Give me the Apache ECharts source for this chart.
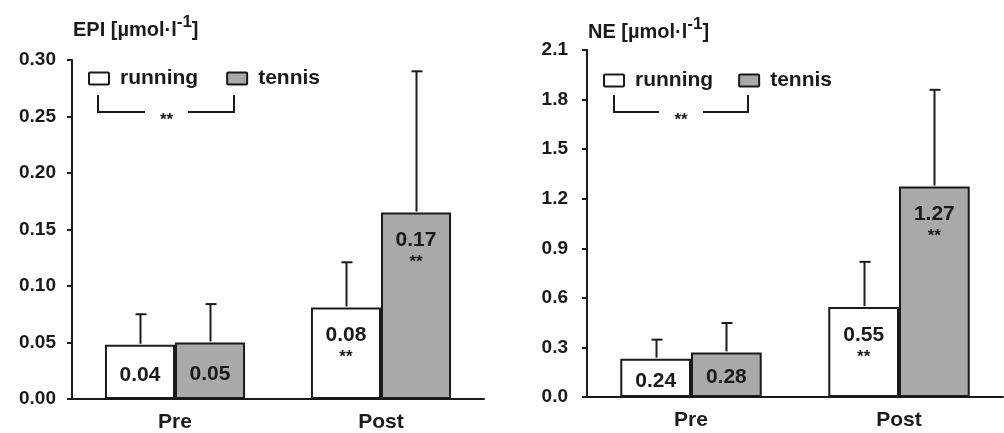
<!DOCTYPE html>
<html><head><meta charset="utf-8">
<script src="https://cdn.jsdelivr.net/npm/echarts@6/dist/echarts.min.js"></script>
<style>html,body{margin:0;padding:0;background:#fff}#c{width:1004px;height:433px}</style>
</head><body><div id="c"></div>
<script>
// ---- data ----
const categories = ['Pre', 'Post'];
const seriesNames = ['running', 'tennis'];
// EPI [µmol·l-1]
const epiRunning = [0.048, 0.081];
const epiTennis = [0.050, 0.165];
const epiRunningUpper = [0.075, 0.121];
const epiTennisUpper = [0.084, 0.290];
const epiRunningLabels = ['0.04', '0.08'];
const epiTennisLabels = ['0.05', '0.17'];
// NE [µmol·l-1]
const neRunning = [0.232, 0.544];
const neTennis = [0.270, 1.274];
const neRunningUpper = [0.347, 0.818];
const neTennisUpper = [0.448, 1.859];
const neRunningLabels = ['0.24', '0.55'];
const neTennisLabels = ['0.28', '1.27'];
// significance marks per category (vs Pre)
const sigMarks = ['', '**'];
const epiTicks = { min: 0, max: 0.30, interval: 0.05, digits: 2 };
const neTicks = { min: 0, max: 2.1, interval: 0.3, digits: 1 };

// ---- styles ----
const INK = '#1a1a1a';
const FONT = '"Liberation Sans", Arial, sans-serif';
const FILL = { running: '#ffffff', tennis: '#a9a9a9' };
const CAT_GAP = 0.32;

function barData(values, labels) {
  return values.map((v, i) => ({
    value: v,
    label: sigMarks[i]
      ? { position: 'insideTop', distance: 11, offset: [0, 5], formatter: '{v|' + labels[i] + '}\n{s|' + sigMarks[i] + '}' }
      : { position: 'inside', offset: [0, 3], formatter: '{v|' + labels[i] + '}' }
  }));
}

function barSeries(name, idx, values, labels) {
  return {
    name: name, type: 'bar', xAxisIndex: idx, yAxisIndex: idx,
    barGap: '0%', barCategoryGap: (CAT_GAP * 100) + '%',
    itemStyle: { color: FILL[name], borderColor: INK, borderWidth: 2 },
    label: {
      show: true, color: INK,
      rich: {
        v: { fontSize: 21, fontWeight: 'bold', color: INK, lineHeight: 24, fontFamily: FONT },
        s: { fontSize: 17, fontWeight: 'bold', color: INK, lineHeight: 20, fontFamily: FONT }
      }
    },
    emphasis: { disabled: true },
    data: barData(values, labels), z: 2
  };
}

function errSeries(idx, side, means, uppers) {
  return {
    type: 'custom', xAxisIndex: idx, yAxisIndex: idx, z: 3, silent: true,
    encode: { x: 0, y: [1, 2] },
    data: means.map((m, i) => [i, m, uppers[i]]),
    renderItem: function (params, api) {
      const band = api.size([1, 0])[0];
      const bw = band * (1 - CAT_GAP) / 2;
      const p0 = api.coord([api.value(0), api.value(1)]);
      const p1 = api.coord([api.value(0), api.value(2)]);
      const x = Math.round(p0[0] + side * bw / 2) + 0.5;
      const st = { stroke: INK, lineWidth: 2 };
      return {
        type: 'group', children: [
          { type: 'line', shape: { x1: x, y1: p0[1] - 1, x2: x, y2: p1[1] }, style: st },
          { type: 'line', shape: { x1: x - 5, y1: p1[1], x2: x + 6, y2: p1[1] }, style: st }
        ]
      };
    }
  };
}

function yAxis(idx, t, margin) {
  return {
    type: 'value', gridIndex: idx, min: t.min, max: t.max, interval: t.interval,
    axisLine: { show: true, lineStyle: { color: INK, width: 2 } },
    axisTick: { show: true, length: 5, lineStyle: { color: INK, width: 2 } },
    splitLine: { show: false },
    axisLabel: { margin: margin, color: INK, fontSize: 19, fontWeight: 'bold', fontFamily: FONT,
      formatter: v => v.toFixed(t.digits) }
  };
}
function xAxis(idx) {
  return {
    type: 'category', gridIndex: idx, data: categories,
    axisLine: { show: true, lineStyle: { color: INK, width: 2 } },
    axisTick: { show: false },
    axisLabel: { margin: 13, color: INK, fontSize: 21, fontWeight: 'bold', fontFamily: FONT }
  };
}
function title(left, top, name) {
  return {
    left: left, top: top, padding: 0,
    text: '{a|' + name + ' [µmol·l}{s|-1}{a|]}',
    textStyle: {
      rich: {
        a: { fontSize: 20, fontWeight: 'bold', color: INK, lineHeight: 26, verticalAlign: 'bottom', fontFamily: FONT },
        s: { fontSize: 17, fontWeight: 'bold', color: INK, lineHeight: 15, verticalAlign: 'top', fontFamily: FONT }
      }
    }
  };
}
function legend(left, top, gap) {
  return {
    left: left, top: top, padding: 0, orient: 'horizontal', itemWidth: 20, itemHeight: 12, itemGap: gap,
    icon: 'path://M1,0 H19 Q20,0 20,1 V11 Q20,12 19,12 H1 Q0,12 0,11 V1 Q0,0 1,0 Z', selectedMode: false,
    data: seriesNames,
    itemStyle: { borderColor: INK, borderWidth: 2 },
    textStyle: { color: INK, fontSize: 21, fontWeight: 'bold', fontFamily: FONT, padding: [3, 0, 0, 6] }
  };
}
function bracket(x1, x2, gapL, gapR, yTop, yBot) {
  const st = { stroke: INK, lineWidth: 2, fill: null };
  return [
    { type: 'polyline', shape: { points: [[x1, yTop], [x1, yBot], [gapL, yBot]] }, style: st },
    { type: 'polyline', shape: { points: [[gapR, yBot], [x2, yBot], [x2, yTop]] }, style: st },
    { type: 'text', x: (gapL + gapR) / 2, y: yBot + 8,
      style: { text: '**', fill: INK, font: 'bold 17px ' + FONT, textAlign: 'center', textVerticalAlign: 'middle' } }
  ];
}

const chart = echarts.init(document.getElementById('c'), null, { renderer: 'canvas' });
chart.setOption({
  animation: false,
  backgroundColor: '#fff',
  title: [title(73, 14, 'EPI'), title(588, 16, 'NE')],
  legend: [legend(88, 68, 28), legend(603, 70, 25)],
  grid: [
    { left: 72, top: 60, width: 412, height: 340 },
    { left: 587, top: 50, width: 416, height: 347 }
  ],
  xAxis: [xAxis(0), xAxis(1)],
  yAxis: [yAxis(0, epiTicks, 16), yAxis(1, neTicks, 19)],
  series: [
    barSeries('running', 0, epiRunning, epiRunningLabels),
    barSeries('tennis', 0, epiTennis, epiTennisLabels),
    errSeries(0, -1, epiRunning, epiRunningUpper),
    errSeries(0, 1, epiTennis, epiTennisUpper),
    barSeries('running', 1, neRunning, neRunningLabels),
    barSeries('tennis', 1, neTennis, neTennisLabels),
    errSeries(1, -1, neRunning, neRunningUpper),
    errSeries(1, 1, neTennis, neTennisUpper)
  ],
  graphic: [].concat(bracket(98, 234, 145, 188, 95, 112), bracket(614, 748, 659, 703, 95, 112))
});
</script></body></html>
